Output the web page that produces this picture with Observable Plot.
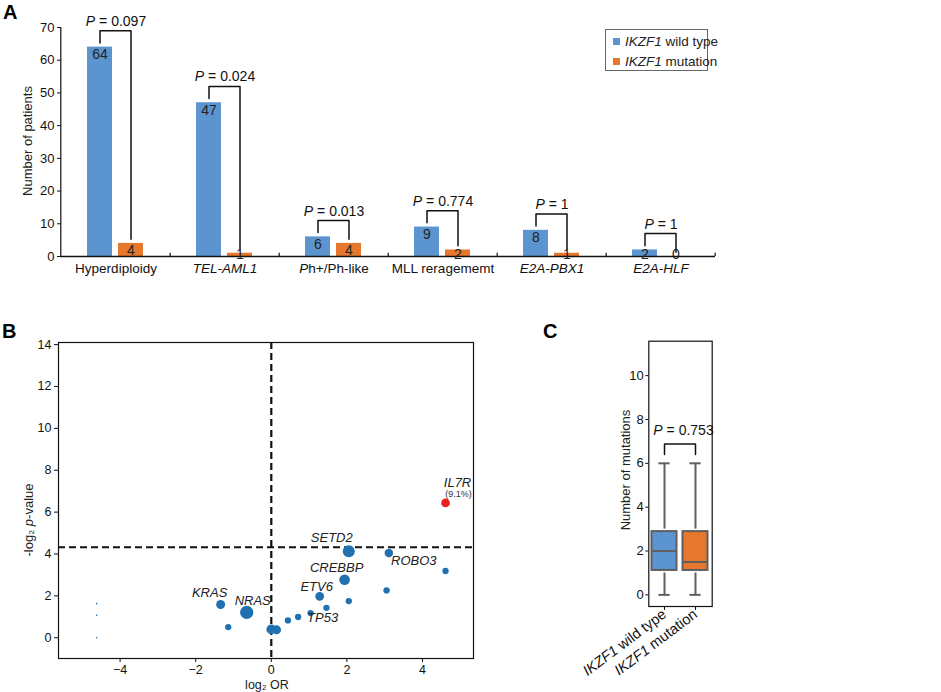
<!DOCTYPE html>
<html>
<head>
<meta charset="utf-8">
<script src="https://cdn.jsdelivr.net/npm/d3@7"></script>
<script src="https://cdn.jsdelivr.net/npm/@observablehq/plot@0.6"></script>
<style>
  body { margin: 0; background: #fff; }
  #fig { position: relative; width: 941px; height: 692px; font-family: "Liberation Sans", Arial, sans-serif; color: #222; overflow: hidden; }
  .abs { position: absolute; }
  .letter { font-weight: bold; font-size: 20px; color: #000; }
  .rot { transform: translate(-50%, -50%) rotate(-90deg); white-space: nowrap; font-size: 13px; }
  .ctr { transform: translate(-50%, -50%); white-space: nowrap; font-size: 13px; }
  #legend { border: 1px solid #666; background: #fff; font-size: 13.5px; padding: 0; }
  #legend .item { position: absolute; left: 7px; white-space: nowrap; display: flex; align-items: center; }
  #legend .sw { width: 7px; height: 7px; display: inline-block; margin-right: 5px; }
</style>
</head>
<body>
<div id="fig"></div>
<script>
// ---------- Panel A data ----------
const categories = ["Hyperdiploidy", "TEL-AML1", "Ph+/Ph-like", "MLL reragememt", "E2A-PBX1", "E2A-HLF"];
const catItalic = [false, true, false, false, true, true];
const seriesNames = ["IKZF1 wild type", "IKZF1 mutation"];
const wildType = [64, 47, 6, 9, 8, 2];
const mutation = [4, 1, 4, 2, 1, 0];
const pValuesA = ["0.097", "0.024", "0.013", "0.774", "1", "1"];
const yTicksA = [0, 10, 20, 30, 40, 50, 60, 70];

// ---------- Panel B data ----------
const geneX = [4.61, 2.05, 3.11, 4.61, 1.94, 3.05, 1.28, 2.05, -1.34, -0.65, 1.46, 1.04, 0.71, 0.44, -1.14, 0.00, 0.14, -4.62, -4.62, -4.62];
const geneY = [6.44, 4.13, 4.05, 3.19, 2.77, 2.26, 1.98, 1.75, 1.59, 1.21, 1.43, 1.18, 0.99, 0.83, 0.51, 0.40, 0.38, 1.63, 1.07, 0.00];
const geneN = [19, 36, 18, 10, 28, 10, 19, 10, 20, 44, 10, 10, 10, 10, 10, 24, 20, 0.6, 0.6, 0.6];
const geneName = ["IL7R", "SETD2", "ROBO3", "", "CREBBP", "", "ETV6", "", "KRAS", "NRAS", "", "TP53", "", "", "", "", "", "", "", ""];
const il7rNote = "(9.1%)";
const alpha = 0.05;
const xTicksB = [-4, -2, 0, 2, 4];
const yTicksB = [0, 2, 4, 6, 8, 10, 12, 14];

// ---------- Panel C data ----------
const groupsC = ["IKZF1 wild type", "IKZF1 mutation"];
const minC = [0, 0];
const q1C = [1, 1];
const medC = [2, 1.5];
const q3C = [3, 3];
const maxC = [6, 6];
const pValueC = "0.753";
const yTicksC = [0, 2, 4, 6, 8, 10];

// ---------- styles ----------
const BLUE = "#5b94cf", ORANGE = "#e8772e", PT_BLUE = "#2171b0", PT_RED = "#e8231f";
const FONT = "Liberation Sans, Arial, sans-serif";
const fig = document.getElementById("fig");

function place(node, left, top) {
  node.style.position = "absolute"; node.style.left = left + "px"; node.style.top = top + "px";
  fig.appendChild(node);
}
function html(str, cls, left, top) {
  const d = document.createElement("div"); d.className = "abs " + (cls || ""); d.innerHTML = str;
  d.style.left = left + "px"; d.style.top = top + "px"; fig.appendChild(d); return d;
}
// italicise the leading word of every text element that starts with it
function italicLead(svg, lead) {
  d3.select(svg).selectAll("text").each(function () {
    const t = this.textContent;
    if (!t.startsWith(lead) || this.querySelector("tspan[font-style]")) return;
    const s = d3.select(this); s.text(null);
    s.append("tspan").attr("font-style", "italic").text(lead);
    s.append("tspan").text(t.slice(lead.length));
  });
}

// ================= Panel A =================
const rows = categories.flatMap((c, i) => [
  {cat: c, series: seriesNames[0], value: wildType[i]},
  {cat: c, series: seriesNames[1], value: mutation[i]}
]);
const brackets = categories.flatMap((c, i) => {
  const top = Math.max(wildType[i], mutation[i]) + 5;
  return [
    {cat: c, s: seriesNames[0], y: wildType[i] + 1.3},
    {cat: c, s: seriesNames[0], y: top},
    {cat: c, s: seriesNames[1], y: top},
    {cat: c, s: seriesNames[1], y: mutation[i] + 1.3}
  ];
});
const pLabelsA = categories.map((c, i) => ({cat: c, y: Math.max(wildType[i], mutation[i]) + 5, text: `P = ${pValuesA[i]}`}));
const catRows = categories.map((c, i) => ({cat: c, italic: catItalic[i]}));

const plotA = Plot.plot({
  width: 730, height: 290,
  marginLeft: 58, marginRight: 13, marginTop: 27, marginBottom: 34,
  style: {fontFamily: FONT, fontSize: "13px", color: "#111", background: "transparent", overflow: "visible"},
  fx: {domain: categories, padding: 0, axis: null},
  x: {domain: seriesNames, paddingInner: 0.19, paddingOuter: 0.84, axis: null},
  y: {domain: [0, 70], ticks: yTicksA, tickSize: 4, tickPadding: 3, label: null},
  color: {domain: seriesNames, range: [BLUE, ORANGE]},
  marks: [
    Plot.barY(rows, {fx: "cat", x: "series", y: "value", fill: "series"}),
    Plot.ruleY([0], {stroke: "#111", strokeWidth: 1.5}),
    Plot.ruleX([categories[0]], {fx: d => d, x: () => seriesNames[0], dx: -39.2, y1: 0, y2: 70, stroke: "#111", strokeWidth: 1.2}),
    Plot.ruleX([seriesNames[1]], {x: d => d, dx: 39.2, y1: 0, y2: 1, stroke: "#111", strokeWidth: 1.2}),
    Plot.text(rows, {fx: "cat", x: "series", y: d => Math.max(d.value, 3), text: d => String(d.value), lineAnchor: "top", dy: 2, fontSize: 14, fill: "#222"}),
    Plot.line(brackets, {fx: "cat", x: "s", y: "y", z: "cat", stroke: "#111", strokeWidth: 1.5}),
    Plot.text(pLabelsA, {fx: "cat", y: "y", text: "text", lineAnchor: "bottom", dy: -5, fontSize: 14, fill: "#111"}),
    Plot.text(catRows.filter(d => !d.italic), {fx: "cat", text: "cat", frameAnchor: "bottom", dy: 16, fontSize: 13.5, fill: "#111"}),
    Plot.text(catRows.filter(d => d.italic), {fx: "cat", text: "cat", frameAnchor: "bottom", dy: 16, fontSize: 13.5, fontStyle: "italic", fill: "#111"})
  ]
});
italicLead(plotA, "P");
place(plotA, 0, 0);

html("A", "letter", 3, 1);
html("Number of patients", "rot", 27, 141);
const legend = html(
  `<div class="item" style="top:4px"><span class="sw" style="background:${BLUE}"></span><span><i>IKZF1</i> wild type</span></div>` +
  `<div class="item" style="top:24px"><span class="sw" style="background:${ORANGE}"></span><span><i>IKZF1</i> mutation</span></div>`,
  "", 605, 29);
legend.id = "legend"; legend.style.width = "101px"; legend.style.height = "40px";

// ================= Panel B =================
const genes = geneX.map((x, i) => ({x, y: geneY[i], n: geneN[i], name: geneName[i]}));
const threshold = -Math.log2(alpha);
const labelOffset = {KRAS: [-11, -12], NRAS: [6, -12], ETV6: [-3, -9], CREBBP: [-8, -12], SETD2: [-17, -13], ROBO3: [25, 8], TP53: [12, 5], IL7R: [12, -20]};

const plotB = Plot.plot({
  width: 480, height: 392,
  marginLeft: 58, marginRight: 7, marginTop: 42, marginBottom: 34,
  style: {fontFamily: FONT, fontSize: "12.5px", color: "#111", background: "transparent", overflow: "visible"},
  x: {domain: [-5.63, 5.35], ticks: xTicksB, tickSize: 4, tickPadding: 3, label: null},
  y: {domain: [-0.99, 14.1], ticks: yTicksB, tickSize: 4, tickPadding: 3, label: null},
  r: {type: "sqrt", domain: [0, 100], range: [0, 10]},
  marks: [
    Plot.frame({stroke: "#111", strokeWidth: 1.2}),
    Plot.ruleX([0], {stroke: "#111", strokeWidth: 2.2, strokeDasharray: "7,4"}),
    Plot.ruleY([threshold], {stroke: "#111", strokeWidth: 2.2, strokeDasharray: "7,4"}),
    Plot.dot(genes, {x: "x", y: "y", r: "n", fill: d => d.y > threshold ? PT_RED : PT_BLUE, stroke: "none"}),
    ...genes.filter(d => d.name).map(d => Plot.text([d], {x: "x", y: "y", text: "name", dx: labelOffset[d.name][0], dy: labelOffset[d.name][1], fontStyle: "italic", fontSize: 13, fill: "#222"})),
    Plot.text(genes.filter(d => d.y > threshold), {x: "x", y: "y", text: () => il7rNote, dx: 13, dy: -8.5, fontSize: 9, fill: "#333"})
  ]
});
place(plotB, 0, 300);
html("B", "letter", 2, 320);
const xl = html("log₂ OR", "ctr", 267, 685); xl.style.fontSize = "12.5px";
html("-log₂ <i>p</i>-value", "rot", 28, 520);

// ================= Panel C =================
const boxes = groupsC.map((g, i) => ({g, min: minC[i], q1: q1C[i], med: medC[i], q3: q3C[i], max: maxC[i]}));
const bracketC = [
  {g: groupsC[0], y: maxC[0] + 0.4}, {g: groupsC[0], y: maxC[0] + 0.88},
  {g: groupsC[1], y: maxC[1] + 0.88}, {g: groupsC[1], y: maxC[1] + 0.4}
];
const GREY = "#5f5f5f";
const plotC = Plot.plot({
  width: 200, height: 392,
  marginLeft: 88.3, marginRight: 48.3, marginTop: 40.7, marginBottom: 86,
  style: {fontFamily: FONT, fontSize: "13px", color: "#111", background: "transparent", overflow: "visible"},
  x: {domain: groupsC, padding: 0.02, label: null},
  y: {domain: [-0.53, 11.57], ticks: yTicksC, tickSize: 3, tickPadding: 2, label: null},
  color: {domain: groupsC, range: [BLUE, ORANGE]},
  marks: [
    Plot.frame({stroke: "#111", strokeWidth: 1.2}),
    Plot.ruleX(boxes, {x: "g", y1: "q3", y2: "max", stroke: GREY, strokeWidth: 2}),
    Plot.ruleX(boxes, {x: "g", y1: "min", y2: "q1", stroke: GREY, strokeWidth: 2}),
    Plot.tickY(boxes, {x: "g", y: "max", stroke: GREY, strokeWidth: 2, inset: 9.4}),
    Plot.tickY(boxes, {x: "g", y: "min", stroke: GREY, strokeWidth: 2, inset: 9.4}),
    Plot.barY(boxes, {x: "g", y1: "q1", y2: "q3", fill: "g", stroke: GREY, strokeWidth: 2, inset: 2.5}),
    Plot.tickY(boxes, {x: "g", y: "med", stroke: GREY, strokeWidth: 2, inset: 2.5}),
    Plot.line(bracketC, {x: "g", y: "y", stroke: "#111", strokeWidth: 1.5}),
    Plot.text([`P = ${pValueC}`], {y: () => maxC[0] + 1.5, text: d => d, dx: 3, fontSize: 14, fill: "#111"}),
    Plot.axisX({tickRotate: -37, tickSize: 4, tickPadding: 2, fontSize: 14.5, label: null})
  ]
});
italicLead(plotC, "P");
italicLead(plotC, "IKZF1");
place(plotC, 560, 300);
html("C", "letter", 543, 320);
html("Number of mutations", "rot", 625, 470);
</script>
</body>
</html>
